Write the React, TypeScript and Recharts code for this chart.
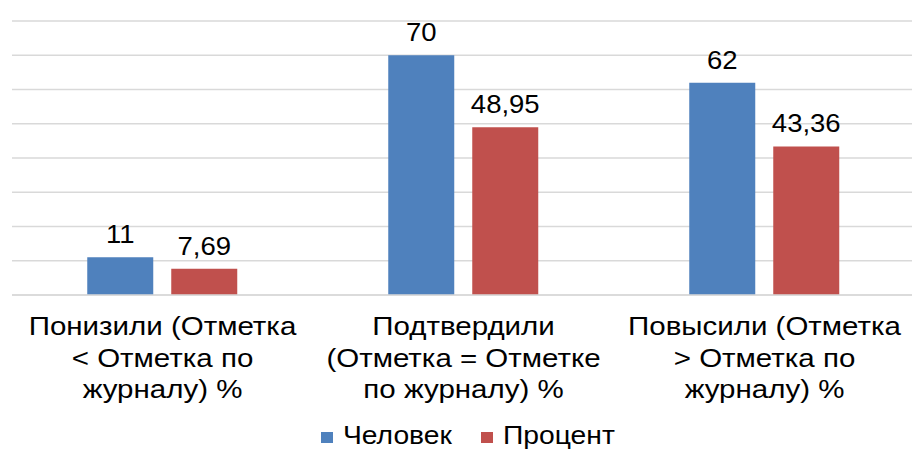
import React from 'react'
import { BarChart, Bar, XAxis, YAxis, CartesianGrid, Legend, LabelList } from 'recharts'

const categories = ['Понизили', 'Подтвердили', 'Повысили']
const tickLines = [
  ['Понизили (Отметка', '< Отметка по', 'журналу) %'],
  ['Подтвердили', '(Отметка = Отметке', 'по журналу) %'],
  ['Повысили (Отметка', '> Отметка по', 'журналу) %'],
]
const people = [11, 70, 62]
const percent = [7.69, 48.95, 43.36]
const yTicks = [0, 10, 20, 30, 40, 50, 60, 70, 80]

const data = categories.map((c, i) => ({ name: c, people: people[i], percent: percent[i] }))

const FONT = 'Liberation Sans, Arial, sans-serif'
const BLUE = '#4f81bd'
const RED = '#c0504d'

const fmt = (v: number) => String(v).replace('.', ',')

// the source text is a wide serif; stretch the sans glyphs to the same widths
function CategoryTick(props: any) {
  const { x, y, index } = props
  const lines = tickLines[index] || []
  return (
    <g transform={`translate(${x},${y})`}>
      {lines.map((l, i) => (
        <text
          key={i}
          x={0}
          y={0}
          transform={`translate(0,${i * 31.5 + 32}) scale(1.18,1)`}
          textAnchor="middle"
          fontFamily={FONT}
          fontSize={25}
          fill="#000"
        >
          {l}
        </text>
      ))}
    </g>
  )
}

function ValueLabel(props: any) {
  const { x, y, width, value } = props
  return (
    <text
      x={0}
      y={0}
      transform={`translate(${x + width / 2},${y - 14}) scale(1.1,1)`}
      textAnchor="middle"
      fontFamily={FONT}
      fontSize={25}
      fill="#000"
    >
      {fmt(value)}
    </text>
  )
}

function LegendContent() {
  const items = [
    { label: 'Человек', color: BLUE, w: 106 },
    { label: 'Процент', color: RED, w: 112 },
  ]
  return (
    <div style={{ display: 'flex', justifyContent: 'center', gap: 32, fontFamily: FONT, fontSize: 25, paddingTop: 10, paddingLeft: 8 }}>
      {items.map((it) => (
        <div key={it.label} style={{ display: 'flex', alignItems: 'center', gap: 10 }}>
          <div style={{ width: 12, height: 11, background: it.color, marginTop: 3 }} />
          <span style={{ display: 'inline-block', width: it.w, whiteSpace: 'nowrap' }}>
            <span style={{ display: 'inline-block', transform: 'scaleX(1.13)', transformOrigin: 'left center' }}>{it.label}</span>
          </span>
        </div>
      ))}
    </div>
  )
}

export default function App() {
  return (
    <div style={{ position: 'absolute', left: 0, top: 0, width: 912, height: 451, overflow: 'hidden', background: '#fff' }}>
      <BarChart
        width={920}
        height={451}
        data={data}
        margin={{ top: 21, right: 5, left: 12, bottom: 0 }}
        barCategoryGap="25%"
        barGap={18}
      >
        <CartesianGrid vertical={false} stroke="#d9d9d9" strokeWidth={1.5} />
        <XAxis dataKey="name" height={116} axisLine={{ stroke: '#d9d9d9', strokeWidth: 1.5 }} tickLine={false} tick={<CategoryTick />} interval={0} />
        <YAxis hide domain={[0, 80]} ticks={yTicks} />
        <Legend verticalAlign="bottom" height={40} content={<LegendContent />} />
        <Bar dataKey="people" name="Человек" fill={BLUE} isAnimationActive={false}>
          <LabelList dataKey="people" content={<ValueLabel />} />
        </Bar>
        <Bar dataKey="percent" name="Процент" fill={RED} isAnimationActive={false}>
          <LabelList dataKey="percent" content={<ValueLabel />} />
        </Bar>
      </BarChart>
    </div>
  )
}
